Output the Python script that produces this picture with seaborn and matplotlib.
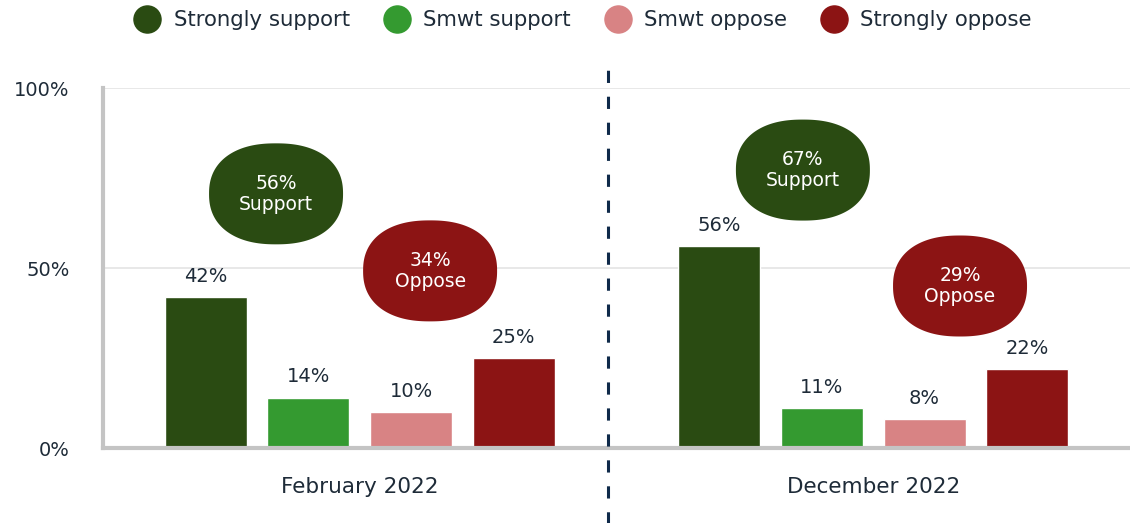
import matplotlib
matplotlib.use("Agg")
import matplotlib.pyplot as plt
import seaborn as sns
import pandas as pd
import numpy as np
from matplotlib.patches import Polygon
from matplotlib.lines import Line2D
from matplotlib.transforms import IdentityTransform

# ---- data ----
periods = ["February 2022", "December 2022"]
responses = ["Strongly support", "Smwt support", "Smwt oppose", "Strongly oppose"]
values_feb = [42, 14, 10, 25]
values_dec = [56, 11, 8, 22]
colors = ["#2a4b12", "#349a30", "#d88384", "#8c1414"]
support_totals = [56, 67]
oppose_totals = [34, 29]

rows = []
for p, vals in zip(periods, [values_feb, values_dec]):
    for r, v in zip(responses, vals):
        rows.append({"period": p, "response": r, "value": v})
df = pd.DataFrame(rows)

sns.set_theme(style="white")
plt.rcParams["font.family"] = ["DejaVu Sans"]
text_color = "#1e2b38"

fig = plt.figure(figsize=(11.3, 5.23), dpi=100)
ax = fig.add_axes([103 / 1130, 1 - 448 / 523, 1 - 103 / 1130, (448 - 88) / 523])

sns.barplot(data=df, x="period", y="value", hue="response", hue_order=responses,
            order=periods, palette=colors, width=0.8, gap=0.2, saturation=1,
            ax=ax, legend=False)

ax.set_xlim(-0.5, 1.5)
ax.set_ylim(0, 100)
ax.set_yticks([0, 50, 100])
ax.set_yticklabels(["0%", "50%", "100%"])
ax.set_xlabel("")
ax.set_ylabel("")
ax.tick_params(axis="both", length=0, labelcolor=text_color)
ax.tick_params(axis="y", pad=24, labelsize=14)
ax.tick_params(axis="x", pad=21, labelsize=15.5)
for y in [50, 100]:
    ax.axhline(y, color="#e4e4e4", lw=1.2, zorder=0)

for s in ["top", "right"]:
    ax.spines[s].set_visible(False)
for s in ["left", "bottom"]:
    ax.spines[s].set_color("#c4c4c4")
    ax.spines[s].set_linewidth(3)

for cont in ax.containers:
    ax.bar_label(cont, fmt="%g%%", padding=8, fontsize=14, color=text_color)

# separator
ax.plot([0.483, 0.483], [-21, 108], color="#0f2a4a", lw=2.2,
        linestyle=(0, (4, 4.5)), clip_on=False, zorder=5)

# ovals
fig.canvas.draw()
def oval(xd, yd, color, txt, w=134, h=101, n=2.3):
    cx, cy = ax.transData.transform((xd, yd))
    t = np.linspace(0, 2 * np.pi, 240)
    c, s = np.cos(t), np.sin(t)
    px = cx + w / 2 * np.sign(c) * np.abs(c) ** (2 / n)
    py = cy + h / 2 * np.sign(s) * np.abs(s) ** (2 / n)
    patch = Polygon(np.column_stack([px, py]), closed=True,
                    transform=IdentityTransform(), facecolor=color,
                    edgecolor="none", zorder=6, clip_on=False)
    fig.patches.append(patch)
    fig.text(cx / 1130, cy / 523, txt, ha="center", va="center", color="white",
             fontsize=13.5, linespacing=1.1, zorder=7)

oval(-0.163, 70.6, colors[0], f"{support_totals[0]}%\nSupport")
oval(0.137, 49.2, colors[3], f"{oppose_totals[0]}%\nOppose")
oval(0.863, 77.2, colors[0], f"{support_totals[1]}%\nSupport")
oval(1.169, 45.0, colors[3], f"{oppose_totals[1]}%\nOppose")

handles = [Line2D([], [], marker="o", linestyle="none", markersize=19.5,
                  markerfacecolor=c, markeredgecolor=c) for c in colors]
fig.legend(handles, responses, loc="center", bbox_to_anchor=(579 / 1130, 1 - 20 / 523),
           ncol=4, frameon=False, fontsize=15.3, handletextpad=0.25,
           columnspacing=1.2, labelcolor=text_color)

fig.savefig("out.png", dpi=100)
